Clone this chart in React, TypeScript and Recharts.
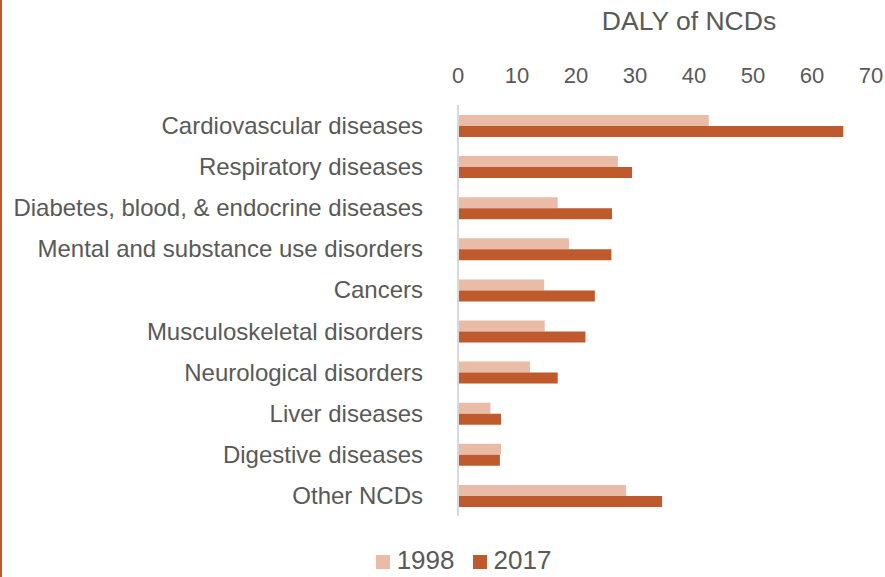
import React from "react";
import { Bar, BarChart, Legend, XAxis, YAxis } from "recharts";

const categories = [
  "Cardiovascular diseases",
  "Respiratory diseases",
  "Diabetes, blood, & endocrine diseases",
  "Mental and substance use disorders",
  "Cancers",
  "Musculoskeletal disorders",
  "Neurological disorders",
  "Liver diseases",
  "Digestive diseases",
  "Other NCDs",
];

const daly1998 = [42.5, 27.1, 16.9, 18.8, 14.6, 14.7, 12.2, 5.5, 7.3, 28.5];
const daly2017 = [65.3, 29.5, 26.1, 26.0, 23.2, 21.6, 16.9, 7.3, 7.1, 34.6];

const xTicks = [0, 10, 20, 30, 40, 50, 60, 70];

const COLOR_1998 = "#eabba6";
const COLOR_2017 = "#be5a2c";
const TEXT = "#595959";
const FONT = "'Liberation Sans', Arial, sans-serif";

const data = categories.map((name, i) => ({
  name,
  y1998: daly1998[i],
  y2017: daly2017[i],
}));

function LegendContent() {
  const items = [
    { label: "1998", color: COLOR_1998 },
    { label: "2017", color: COLOR_2017 },
  ];
  return (
    <div style={{ display: "flex", justifyContent: "center", alignItems: "center", gap: 18, paddingLeft: 56 }}>
      {items.map((it) => (
        <span key={it.label} style={{ display: "flex", alignItems: "center" }}>
          <span style={{ width: 14, height: 14, background: it.color, marginRight: 7, marginTop: 4 }} />
          <span style={{ fontSize: 26, color: TEXT, lineHeight: "26px" }}>{it.label}</span>
        </span>
      ))}
    </div>
  );
}

export default function App() {
  return (
    <div
      style={{
        position: "absolute",
        left: 0,
        top: 0,
        width: 885,
        height: 577,
        background: "#fff",
        fontFamily: FONT,
        overflow: "hidden",
      }}
    >
      <div
        style={{
          position: "absolute",
          left: 0,
          top: 0,
          width: 2,
          height: 577,
          background: "#c0582b",
        }}
      />
      <div
        style={{
          position: "absolute",
          left: 458,
          width: 462,
          top: 6,
          textAlign: "center",
          fontSize: 26.5,
          color: TEXT,
        }}
      >
        DALY of NCDs
      </div>
      <BarChart
        width={885}
        height={577}
        data={data}
        layout="vertical"
        margin={{ top: 50, right: 14, left: 0, bottom: 35 }}
        barCategoryGap={10}
        barGap={0}
      >
        <XAxis
          type="number"
          orientation="top"
          domain={[0, 70]}
          ticks={xTicks}
          axisLine={false}
          tickLine={false}
          tickSize={0}
          tickMargin={22}
          height={55}
          tick={{ fontSize: 22, fill: TEXT, fontFamily: FONT }}
        />
        <YAxis
          type="category"
          dataKey="name"
          width={458}
          axisLine={{ stroke: "#d9d9d9", strokeWidth: 2 }}
          tickLine={false}
          tickSize={0}
          tickMargin={35}
          interval={0}
          tick={{ fontSize: 24, fill: TEXT, fontFamily: FONT }}
        />
        <Bar dataKey="y1998" name="1998" fill={COLOR_1998} isAnimationActive={false} />
        <Bar dataKey="y2017" name="2017" fill={COLOR_2017} isAnimationActive={false} />
        <Legend verticalAlign="bottom" content={<LegendContent />} wrapperStyle={{ bottom: 4 }} />
      </BarChart>
    </div>
  );
}
